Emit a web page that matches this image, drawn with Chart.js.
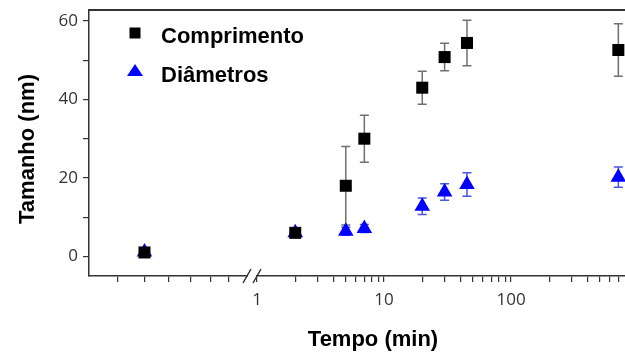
<!DOCTYPE html>
<html>
<head>
<meta charset="utf-8">
<script src="https://cdn.jsdelivr.net/npm/chart.js@4"></script>
<style>
html, body { margin: 0; padding: 0; background: #fff; overflow: hidden; }
canvas { display: block; }
</style>
</head>
<body>
<canvas id="size-chart" width="625" height="354"></canvas>
<script>
// tempo (min) de cada amostra
const times = [0.13, 2, 5, 7, 20, 30, 45, 700];
// comprimento (nm) e erro
const lengthNm = [1, 6, 18, 30, 43, 50.8, 54.4, 52.6];
const lengthErr = [0.5, 1, 10, 6, 4.2, 3.5, 5.8, 6.7];
// diametros (nm) e erro
const diameterNm = [1.1, 6, 6.4, 7.1, 12.8, 16.4, 18.3, 20.2];
const diameterErr = [0.5, 1, 1, 1, 2.1, 2.1, 3, 2.6];

// tick marks on the x axis (left part is before the break)
const xTicks = [0.08, 0.13, 0.2, 0.3, 0.43, 0.6,
  1, 2, 3, 4, 5, 6, 7, 8, 9,
  10, 20, 30, 40, 50, 60, 70, 80, 90,
  100, 200, 300, 400, 500, 600, 700];
const xLabels = [1, 10, 100];
const yTicks = [0, 10, 20, 30, 40, 50, 60];
const yLabels = [0, 20, 40, 60];

const axisColor = "#333";
const titleFont = "bold 22px 'Liberation Sans', Arial, sans-serif";

const toPoints = (ys) => times.map((t, i) => ({ x: t, y: ys[i] }));

const extras = {
  id: "extras",
  beforeDatasetsDraw(chart) {
    const { ctx, scales: { x, y } } = chart;
    chart.data.datasets.forEach((ds) => {
      ctx.save();
      ctx.strokeStyle = ds.errorColor;
      ctx.lineWidth = 1.5;
      ds.data.forEach((p, i) => {
        const px = x.getPixelForValue(p.x);
        const top = y.getPixelForValue(p.y + ds.errors[i]);
        const bot = y.getPixelForValue(p.y - ds.errors[i]);
        ctx.beginPath();
        ctx.moveTo(px, top);
        ctx.lineTo(px, bot);
        ctx.moveTo(px - 4.5, top);
        ctx.lineTo(px + 4.5, top);
        ctx.moveTo(px - 4.5, bot);
        ctx.lineTo(px + 4.5, bot);
        ctx.stroke();
      });
      ctx.restore();
    });
  },
  afterDraw(chart) {
    const { ctx, chartArea: area } = chart;
    ctx.save();
    // top frame line
    ctx.strokeStyle = axisColor;
    ctx.lineWidth = 2;
    ctx.beginPath();
    ctx.moveTo(area.left, area.top);
    ctx.lineTo(area.right, area.top);
    ctx.stroke();

    // axis break
    const bx = 252, by = area.bottom;
    ctx.fillStyle = "#fff";
    ctx.fillRect(bx - 4, by - 3, 8, 6);
    ctx.lineWidth = 1.5;
    ctx.beginPath();
    ctx.moveTo(bx - 9, by + 7);
    ctx.lineTo(bx - 1, by - 7);
    ctx.moveTo(bx + 1, by + 7);
    ctx.lineTo(bx + 9, by - 7);
    ctx.stroke();

    // legend
    ctx.fillStyle = "#000";
    ctx.fillRect(129.5, 27.5, 11, 11);
    ctx.fillStyle = "#0000ff";
    ctx.beginPath();
    ctx.moveTo(135, 64);
    ctx.lineTo(143, 76);
    ctx.lineTo(127, 76);
    ctx.closePath();
    ctx.fill();
    ctx.fillStyle = "#000";
    ctx.font = titleFont;
    ctx.textBaseline = "alphabetic";
    ctx.textAlign = "left";
    ctx.fillText("Comprimento", 161, 43);
    ctx.fillText("Diâmetros", 161, 82);

    // axis titles
    ctx.textAlign = "center";
    ctx.fillText("Tempo (min)", 373, 346);
    ctx.translate(34, 149);
    ctx.rotate(-Math.PI / 2);
    ctx.fillText("Tamanho (nm)", 0, 0);
    ctx.restore();
  },
};

new Chart(document.getElementById("size-chart"), {
  type: "scatter",
  data: {
    datasets: [
      {
        label: "Comprimento",
        data: toPoints(lengthNm),
        errors: lengthErr,
        errorColor: "#707070",
        pointStyle: "rect",
        pointRadius: 8.5,
        pointHoverRadius: 8.5,
        backgroundColor: "#000",
        borderColor: "#000",
        borderWidth: 0,
      },
      {
        label: "Diâmetros",
        data: toPoints(diameterNm),
        errors: diameterErr,
        errorColor: "#4a55e0",
        pointStyle: "triangle",
        pointRadius: 9,
        pointHoverRadius: 9,
        backgroundColor: "#0000ff",
        borderColor: "#0000ff",
        borderWidth: 0,
      },
    ],
  },
  options: {
    responsive: false,
    animation: false,
    layout: { autoPadding: false, padding: { top: 10, right: 0, left: 0, bottom: 0 } },
    plugins: {
      legend: { display: false },
      tooltip: { enabled: false },
    },
    scales: {
      x: {
        type: "logarithmic",
        min: 0.04754,
        max: 789.8,
        afterFit: (s) => { s.height = 78; s.paddingLeft = 0; s.paddingRight = 0; },
        afterBuildTicks: (s) => { s.ticks = xTicks.map((v) => ({ value: v })); },
        border: { display: true, color: axisColor, width: 1.5 },
        grid: { drawOnChartArea: false, color: axisColor, tickLength: 6, lineWidth: 1.2 },
        ticks: {
          autoSkip: false,
          maxRotation: 0,
          padding: 8,
          color: "#333",
          font: { family: "'Open Sans', sans-serif", size: 17 },
          callback: (v) => (xLabels.includes(v) ? String(v) : ""),
        },
      },
      y: {
        min: -5,
        max: 62.8,
        afterFit: (s) => { s.width = 89; s.paddingTop = 0; s.paddingBottom = 0; },
        afterBuildTicks: (s) => { s.ticks = yTicks.map((v) => ({ value: v })); },
        border: { display: true, color: axisColor, width: 1.5 },
        grid: { drawOnChartArea: false, color: axisColor, tickLength: 6, lineWidth: 1.2 },
        ticks: {
          padding: 5,
          color: "#333",
          font: { family: "'Open Sans', sans-serif", size: 17 },
          callback: (v) => (yLabels.includes(v) ? String(v) : ""),
        },
      },
    },
  },
  plugins: [extras],
});
</script>
</body>
</html>
